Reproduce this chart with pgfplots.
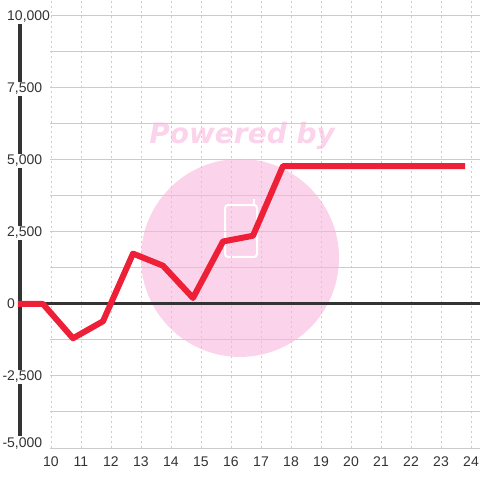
\documentclass[border=0pt]{standalone}
\usepackage{pgfplots}
\pgfplotsset{compat=1.18}
\usepackage{fontspec}
\setmainfont{Liberation Sans}
\newfontfamily\wmfont{DejaVu Sans}
\definecolor{redline}{HTML}{EE2037}
\definecolor{wmpink}{HTML}{FBD3EA}
\definecolor{gridgray}{HTML}{CCCCCC}
\definecolor{axisdark}{HTML}{333333}
\begin{document}
\begin{tikzpicture}
\begin{axis}[
  set layers=standard,
  scale only axis,
  width=430bp, height=448bp,
  xmin=9.96667, xmax=24.3,
  ymin=-5000, ymax=10555.6,
  clip=false,
  /pgf/number format/assume math mode=true,
  axis line style={draw=none},
  major tick length=0pt, minor tick length=0pt,
  xtick={10,...,24},
  ytick={-5000,-2500,0,2500,5000,7500,10000},
  minor ytick={-3750,-1250,1250,3750,6250,8750},
  yticklabels={{\raisebox{6bp}{\llap{-}5,000}},{\llap{-}2,500},0,{2,500},{5,000},{7,500},{10,000}},
  xmajorgrids, ymajorgrids, yminorgrids,
  x grid style={gridgray, line width=0.8bp, dash pattern=on 2bp off 3bp},
  y grid style={gridgray, line width=1bp},
  yticklabel style={anchor=base west, xshift=-44bp, yshift=-5bp, fill=white, inner sep=1bp, text=axisdark, font=\fontsize{14bp}{16bp}\selectfont},
  xticklabel style={anchor=base, yshift=-18bp, text=axisdark, font=\fontsize{14bp}{16bp}\selectfont},
]
\begin{pgfonlayer}{axis background}
\fill[wmpink] (axis cs:16.3,1600) circle[radius=99bp];
\draw[white, line width=2bp, rounded corners=3bp] (axis cs:15.8,1632) rectangle (axis cs:16.867,3437);
\draw[white, line width=2bp] (axis cs:16.75,3437) -- (axis cs:16.75,3650);
\node[text=wmpink, font=\wmfont\bfseries\itshape\fontsize{28bp}{30bp}\selectfont, anchor=base] at (axis cs:16.37,5590) {Powered by};
\end{pgfonlayer}
\begin{pgfonlayer}{axis lines}
\draw[axisdark, line width=3.2bp] (axis cs:8.9667,-4580) -- (axis cs:8.9667,9750);
\draw[axisdark, line width=3bp] (axis cs:8.9667,0) -- (axis cs:24.3,0);
\end{pgfonlayer}
\addplot[redline, line width=6bp, line join=round] coordinates {
(8.9,0) (9.733,0) (10.733,-1190) (11.733,-600) (12.733,1750) (13.733,1330)
(14.733,210) (15.733,2170) (16.733,2370) (17.733,4790) (18.733,4790)
(19.733,4790) (20.733,4790) (21.733,4790) (22.733,4790) (23.8,4790)
};
\end{axis}
\pgfresetboundingbox
\useasboundingbox ([shift={(-50bp,-32bp)}]current axis.south west) rectangle (current axis.north east);
\end{tikzpicture}
\end{document}
